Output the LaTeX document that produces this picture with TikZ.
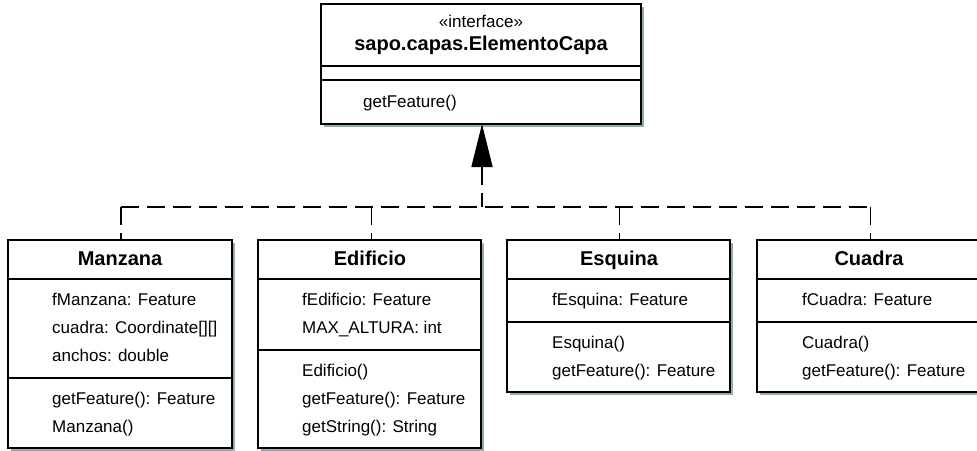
\documentclass[tikz,border=0pt]{standalone}
\usepackage{fontspec}
\setmainfont{Liberation Sans}
\usetikzlibrary{arrows.meta,shadows}
\definecolor{shadowgrey}{RGB}{150,172,172}
\tikzset{
  classbox/.style={draw=black, line width=2pt, fill=white, rectangle, anchor=north west,
    inner sep=0pt, outer sep=0pt,
    general shadow={fill=shadowgrey, shadow xshift=3pt, shadow yshift=-3pt}},
  sepline/.style={line width=1.2pt},
  member/.style={anchor=base west, inner sep=0pt, font=\fontsize{17}{20}\selectfont},
  ctitle/.style={anchor=base, inner sep=0pt, font=\fontsize{20}{24}\selectfont\bfseries},
  stereo/.style={anchor=base, inner sep=0pt, font=\fontsize{17}{20}\selectfont},
  dep/.style={line width=1.5pt, dash pattern=on 18pt off 8pt},
}
\begin{document}
\begin{tikzpicture}[x=1pt, y=-1pt]
\useasboundingbox (0,0) rectangle (977,450);

% interface
\node[classbox, minimum width=320pt, minimum height=120pt] (iface) at (321,4) {};
\draw[sepline] (321,66) -- (641,66);
\draw[sepline] (321,80) -- (641,80);
\node[stereo] (iface-s) at (481,27) {«interface»};
\node[ctitle] (iface-t) at (481,50) {sapo.capas.ElementoCapa};
\node[member] (iface-m1) at (363,107) {getFeature()};

% Manzana
\node[classbox, minimum width=224pt, minimum height=208pt] (man) at (8,240) {};
\draw[sepline] (8,279) -- (232,279);
\draw[sepline] (8,378) -- (232,378);
\node[ctitle] (man-t) at (120,265) {Manzana};
\node[member] (man-a1) at (52,305) {fManzana: Feature};
\node[member] (man-a2) at (52,333) {cuadra: Coordinate[][]};
\node[member] (man-a3) at (52,361) {anchos: double};
\node[member] (man-m1) at (52,404) {getFeature(): Feature};
\node[member] (man-m2) at (52,432) {Manzana()};

% Edificio
\node[classbox, minimum width=223pt, minimum height=208pt] (edi) at (258,240) {};
\draw[sepline] (258,279) -- (481,279);
\draw[sepline] (258,350) -- (481,350);
\node[ctitle] (edi-t) at (370,265) {Edificio};
\node[member] (edi-a1) at (302,305) {fEdificio: Feature};
\node[member] (edi-a2) at (302,333) {MAX\_ALTURA: int};
\node[member] (edi-m1) at (302,376) {Edificio()};
\node[member] (edi-m2) at (302,404) {getFeature(): Feature};
\node[member] (edi-m3) at (302,432) {getString(): String};

% Esquina
\node[classbox, minimum width=223pt, minimum height=152pt] (esq) at (507,240) {};
\draw[sepline] (507,279) -- (730,279);
\draw[sepline] (507,322) -- (730,322);
\node[ctitle] (esq-t) at (619,265) {Esquina};
\node[member] (esq-a1) at (552,305) {fEsquina: Feature};
\node[member] (esq-m1) at (552,348) {Esquina()};
\node[member] (esq-m2) at (552,376) {getFeature(): Feature};

% Cuadra
\node[classbox, minimum width=223pt, minimum height=152pt] (cua) at (757,240) {};
\draw[sepline] (757,279) -- (980,279);
\draw[sepline] (757,322) -- (980,322);
\node[ctitle] (cua-t) at (869,265) {Cuadra};
\node[member] (cua-a1) at (802,305) {fCuadra: Feature};
\node[member] (cua-m1) at (802,348) {Cuadra()};
\node[member] (cua-m2) at (802,376) {getFeature(): Feature};

% realization connectors: a shared dashed bus with drops into each class
\coordinate (bus) at (482,207);
\coordinate (busL) at ([xshift=1pt]man.north |- bus);
\coordinate (busR) at ([xshift=2pt]cua.north |- bus);
\draw[dep] (busL) -- (busR);
\draw[dep] (busL) -- ([xshift=1pt]man.north);
\draw[dep] ([xshift=2pt]edi.north |- bus) -- ([xshift=2pt]edi.north);
\draw[dep] ([xshift=1pt]esq.north |- bus) -- ([xshift=1pt]esq.north);
\draw[dep] (busR) -- ([xshift=2pt]cua.north);
\draw[dep, {Triangle[width=21pt,length=43pt]}-] (bus |- iface.south) -- (bus);
\end{tikzpicture}
\end{document}
